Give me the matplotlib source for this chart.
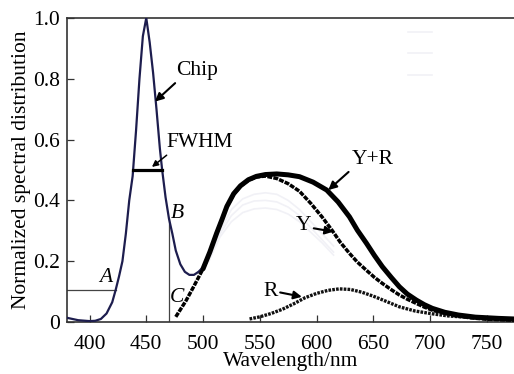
import numpy as np
import matplotlib
matplotlib.use("Agg")
import matplotlib.pyplot as plt

# chip (blue LED) emission
chip_wl = [380, 390, 400, 405, 410, 415, 420, 423, 426, 429, 432, 435, 438, 441,
           444, 447, 450, 453, 456, 459, 462, 464, 467, 470, 473, 476, 480, 484,
           488, 492, 496, 500, 503]
chip_val = [0.014, 0.006, 0.003, 0.004, 0.010, 0.028, 0.065, 0.105, 0.150, 0.200,
            0.290, 0.400, 0.480, 0.630, 0.800, 0.940, 1.000, 0.920, 0.820, 0.700,
            0.570, 0.500, 0.410, 0.340, 0.290, 0.235, 0.190, 0.165, 0.155, 0.155,
            0.165, 0.180, 0.195]

# yellow phosphor
y_wl = [476, 485, 492, 500, 506, 512, 517, 521, 527, 533, 540, 547, 555, 565,
        575, 585, 595, 605, 614, 621, 629, 636, 644, 651, 658, 666, 673, 680,
        688, 695, 702, 712, 722, 735, 750, 774]
y_val = [0.017, 0.070, 0.118, 0.175, 0.230, 0.292, 0.340, 0.380, 0.420, 0.447,
         0.466, 0.477, 0.480, 0.472, 0.455, 0.430, 0.390, 0.345, 0.300, 0.262,
         0.226, 0.197, 0.170, 0.147, 0.127, 0.106, 0.089, 0.075, 0.061, 0.049,
         0.039, 0.029, 0.021, 0.014, 0.009, 0.006]

# red phosphor
r_wl = [541, 550, 560, 570, 580, 590, 600, 610, 620, 630, 640, 650, 660, 673,
        687, 702, 716, 731, 745, 760, 774]
r_val = [0.010, 0.017, 0.028, 0.042, 0.060, 0.080, 0.094, 0.104, 0.109, 0.107,
         0.098, 0.085, 0.070, 0.050, 0.036, 0.027, 0.020, 0.016, 0.012, 0.009,
         0.007]

# combined yellow + red
yr_wl = [500, 506, 512, 517, 521, 527, 533, 540, 547, 555, 565, 575, 585, 597,
         609, 619, 629, 636, 644, 651, 658, 666, 673, 680, 688, 695, 702, 713,
         725, 740, 760, 774]
yr_val = [0.175, 0.230, 0.292, 0.340, 0.380, 0.422, 0.448, 0.468, 0.479, 0.485,
          0.487, 0.484, 0.478, 0.460, 0.434, 0.395, 0.346, 0.302, 0.259, 0.219,
          0.182, 0.146, 0.116, 0.092, 0.072, 0.057, 0.045, 0.032, 0.023, 0.016,
          0.012, 0.010]

# faint reference spectra
g_wl = [505, 515, 525, 535, 545, 555, 565, 575, 585, 595, 605, 615]
g1_val = [0.200, 0.300, 0.370, 0.405, 0.420, 0.425, 0.420, 0.400, 0.370, 0.330, 0.290, 0.250]
g2_val = [0.200, 0.290, 0.350, 0.385, 0.398, 0.400, 0.395, 0.378, 0.350, 0.310, 0.270, 0.230]
g3_val = [0.200, 0.280, 0.330, 0.360, 0.372, 0.375, 0.370, 0.355, 0.330, 0.295, 0.260, 0.220]

x_ticks = [400, 450, 500, 550, 600, 650, 700, 750]
y_ticks = [0, 0.2, 0.4, 0.6, 0.8, 1.0]
y_tick_labels = ["0", "0.2", "0.4", "0.6", "0.8", "1.0"]

half_max = 0.5
fwhm_left, fwhm_right = 438.5, 464.0
level_a = 0.105
wl_b = 470

plt.rcParams["font.family"] = ["Liberation Serif", "DejaVu Serif"]
plt.rcParams["font.size"] = 15.5

fig = plt.figure(figsize=(5.14, 3.74), dpi=100)
ax = fig.add_axes([0.130, 0.139, 0.870, 0.813])

ghost_color = "#f1f1f6"
ghosts = []
for g in (g1_val, g2_val, g3_val):
    ln, = ax.plot(g_wl, g, color=ghost_color, lw=1.2, zorder=1)
    ghosts.append(ln)

chip_color = "#1d1d4e"
ax.plot(chip_wl, chip_val, color=chip_color, lw=1.6, zorder=3)

ax.plot(y_wl, y_val, color="black", lw=2.5, ls=(0, (1.4, 0.35)), zorder=4)
ax.plot(r_wl, r_val, color="#111111", lw=2.4, ls=(0, (0.8, 0.35)), zorder=4)
ax.plot(yr_wl, yr_val, color="black", lw=3.6, zorder=5, solid_capstyle="round")

# FWHM bar
ax.plot([fwhm_left, fwhm_right], [half_max, half_max], color="black", lw=2.3, zorder=6)

# guide lines A and B
a_cross = np.interp(level_a, chip_val[:12], chip_wl[:12])
ax.plot([380, a_cross], [level_a, level_a], color="#444444", lw=0.9, zorder=2)
b_top = np.interp(wl_b, chip_wl, chip_val)
ax.plot([wl_b, wl_b], [0, b_top], color="#444444", lw=0.9, zorder=2)

arrow = dict(arrowstyle="-|>", color="black", lw=1.5,
             mutation_scale=12, shrinkA=0, shrinkB=0)
ax.annotate("Chip", xy=(457.7, 0.725), xytext=(494.7, 0.826),
            ha="center", va="center", arrowprops=dict(arrow, relpos=(0.05, 0.0)))
ax.annotate("FWHM", xy=(455.0, 0.510), xytext=(497.4, 0.589),
            ha="center", va="center",
            arrowprops=dict(arrow, lw=1.1, mutation_scale=9, relpos=(0.05, 0.0)))
ax.annotate("Y+R", xy=(610.4, 0.434), xytext=(649.2, 0.533),
            ha="center", va="center", arrowprops=dict(arrow, relpos=(0.0, 0.0)))
ax.annotate("Y", xy=(614.8, 0.297), xytext=(588.3, 0.316),
            ha="center", va="center", arrowprops=dict(arrow, relpos=(1.0, 0.4)))
ax.annotate("R", xy=(587.1, 0.083), xytext=(559.2, 0.099),
            ha="center", va="center", arrowprops=dict(arrow, relpos=(1.0, 0.5)))

ax.text(414.4, 0.146, "A", style="italic", ha="center", va="center")
ax.text(477.5, 0.357, "B", style="italic", ha="center", va="center")
ax.text(477.1, 0.082, "C", style="italic", ha="center", va="center")

ax.legend(ghosts, [" ", " ", " "], loc="upper left", bbox_to_anchor=(0.73, 1.025),
          frameon=False, handlelength=1.4, labelspacing=0.35, fontsize=12)

ax.set_xlim(380, 774)
ax.set_ylim(0, 1.0)
ax.set_xticks(x_ticks)
ax.set_yticks(y_ticks)
ax.set_yticklabels(y_tick_labels)
ax.tick_params(direction="in", length=5, width=0.9, color="#333333")
ax.tick_params(axis="x", pad=9)
ax.tick_params(axis="y", pad=5)

for side in ("left", "bottom", "top"):
    ax.spines[side].set_linewidth(1.2)
    ax.spines[side].set_color("#333333")
ax.spines["right"].set_visible(False)

ax.set_xlabel("Wavelength/nm", labelpad=-1)
ax.set_ylabel("Normalized spectral distribution", labelpad=1)

fig.savefig("out.png", dpi=100)
